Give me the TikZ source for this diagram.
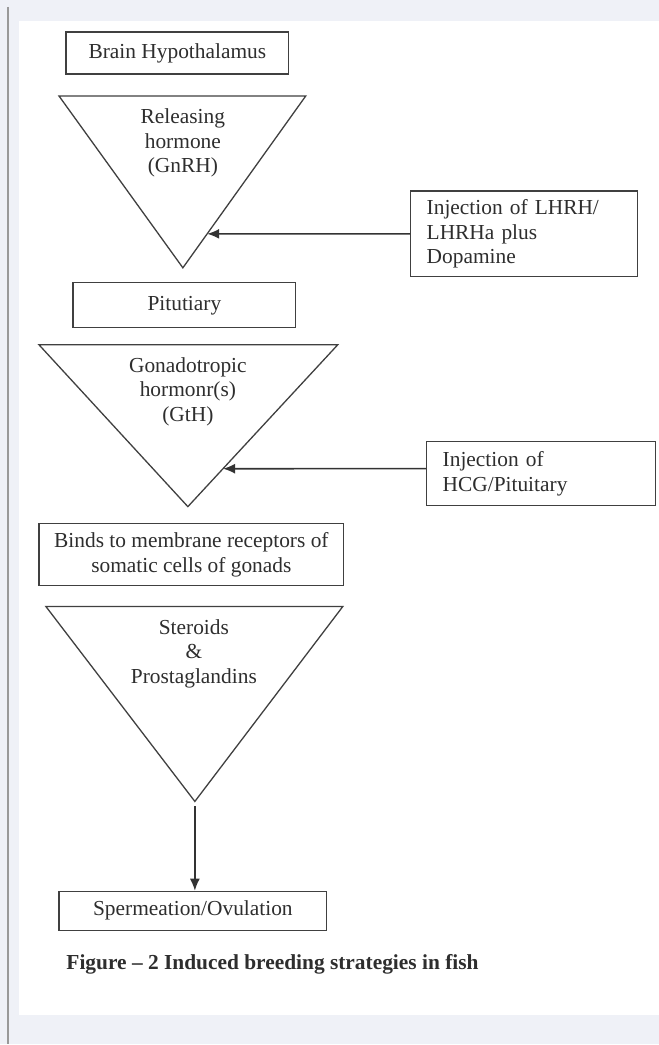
\documentclass[tikz,border=0pt]{standalone}
\usepackage{fontspec}
\setmainfont{Liberation Serif}
\usetikzlibrary{arrows.meta}
\definecolor{pagegrey}{HTML}{EFF1F7}
\definecolor{inkgrey}{HTML}{2E2E2E}

\begin{document}
\begin{tikzpicture}[x=1pt,y=-1pt,
  every node/.style={font=\fontsize{21.4}{24.5}\selectfont, text=inkgrey, align=center},
  box/.style={draw=black!75, line width=1.3pt, inner sep=0pt},
  sidebox/.style={draw=black!75, line width=1.3pt, inner xsep=16pt, inner ysep=0pt, align=left},
  funnel/.style={draw=black!75, line width=1.3pt},
  feed/.style={draw=black!80, line width=1.6pt, -{Latex[length=12pt,width=10pt]}}]

% page
\fill[pagegrey] (0,0) rectangle (659,1045);
\fill[white] (19,21) rectangle (659,1016);
\draw[black!40, line width=1.5pt] (8,7) -- (8,1045);
\useasboundingbox (0,0) rectangle (659,1045);

% boxes
\node[box, minimum width=223pt, minimum height=42pt] (hypo) at (177.5,53) {Brain Hypothalamus};
\node[box, minimum width=223pt, minimum height=45pt] (pit) at (184.5,305.5) {Pitutiary};
\node[box, minimum width=305pt, minimum height=62pt] (binds) at (191.5,555) {Binds to membrane receptors of\\somatic cells of gonads};
\node[box, minimum width=268pt, minimum height=39pt] (sperm) at (193,911.5) {Spermeation/Ovulation};
\node[sidebox, text width=195pt, minimum height=86pt] (inj1) at (524.5,234) {Injection of LHRH/\\LHRHa plus\\Dopamine};
\node[sidebox, text width=197pt, minimum height=64pt] (inj2) at (541.5,474) {Injection of\\HCG/Pituitary};

% funnels
\coordinate (R1) at (59,96);
\coordinate (R2) at (306,96);
\coordinate (R3) at (183,268);
\draw[funnel] (R1) -- (R2) -- (R3) -- cycle;
\node (gnrh) at (183,143) {Releasing\\hormone\\(GnRH)};

\coordinate (G1) at (39,345);
\coordinate (G2) at (338,345);
\coordinate (G3) at (188,507);
\draw[funnel] (G1) -- (G2) -- (G3) -- cycle;
\node (gth) at (188,392) {Gonadotropic\\hormonr(s)\\(GtH)};

\coordinate (S1) at (46,607);
\coordinate (S2) at (343,607);
\coordinate (S3) at (195,802);
\draw[funnel] (S1) -- (S2) -- (S3) -- cycle;
\node (ster) at (194,654) {Steroids\\\&\\Prostaglandins};

% injections
\coordinate (a1) at (R1 |- inj1.west);
\coordinate (E1) at (intersection of R2--R3 and inj1.west--a1);
\draw[feed] (inj1.west) -- (E1);

\coordinate (b2) at ([yshift=5pt]inj2.west);
\coordinate (a2) at (G1 |- b2);
\coordinate (E2) at (intersection of G2--G3 and b2--a2);
\draw[feed] (b2) -- (E2);

\draw[feed] ([yshift=-5pt]S3) -- (S3 |- sperm.north);

\node[anchor=base west, font=\fontsize{21.4}{24}\selectfont\bfseries] (caption) at (63,970) {Figure – 2 Induced breeding strategies in fish};

\end{tikzpicture}
\end{document}
